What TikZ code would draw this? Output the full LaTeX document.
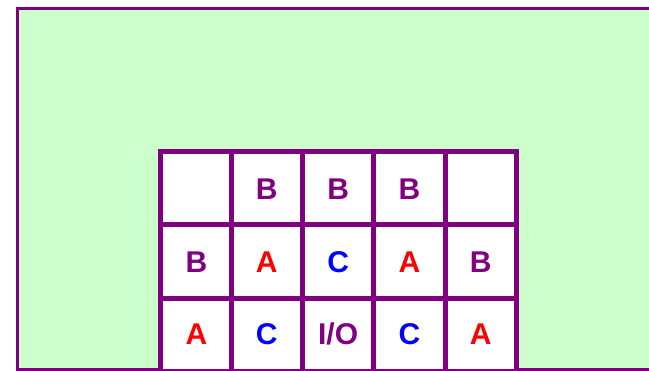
\documentclass[tikz,border=0pt]{standalone}
\usepackage{fontspec}
\setmainfont{Liberation Sans}
\definecolor{bggreen}{HTML}{CCFFCC}
\definecolor{gridpurple}{HTML}{800080}
\definecolor{cred}{HTML}{FF0000}
\definecolor{cblue}{HTML}{0000FF}
\begin{document}
\begin{tikzpicture}[x=1pt,y=-1pt,
  cell/.style={font=\fontsize{30}{30}\selectfont\bfseries, inner sep=0pt, anchor=center},
  pB/.style={cell, text=gridpurple},
  pA/.style={cell, text=cred},
  pC/.style={cell, text=cblue}]
\useasboundingbox (0,0) rectangle (649,371);
\clip (0,0) rectangle (649,371);
\filldraw[fill=bggreen, draw=gridpurple, line width=3] (17.5,8.5) rectangle (690,370);
% grid
\def\xs{71.3}
\def\ys{73.5}
\fill[white] (160,151.5) rectangle (516.5,372);
\foreach \i in {0,...,5} {
  \draw[gridpurple, line width=5] (160+\i*\xs,149) -- (160+\i*\xs,380);
}
\foreach \j in {0,...,3} {
  \draw[gridpurple, line width=5] (157.5,151.5+\j*\ys) -- (519,151.5+\j*\ys);
}
% texts
\node[pB] (r1c2) at (266.8,189) {B};
\node[pB] (r1c3) at (338.1,189) {B};
\node[pB] (r1c4) at (409.4,189) {B};
\node[pB] (r2c1) at (196.5,262.5) {B};
\node[pA] (r2c2) at (266.8,262.5) {A};
\node[pC] (r2c3) at (338.1,262.5) {C};
\node[pA] (r2c4) at (409.4,262.5) {A};
\node[pB] (r2c5) at (480.7,262.5) {B};
\node[pA] (r3c1) at (196.5,334.3) {A};
\node[pC] (r3c2) at (266.8,334.3) {C};
\node[pB] (r3c3) at (338.1,334.3) {I/O};
\node[pC] (r3c4) at (409.4,334.3) {C};
\node[pA] (r3c5) at (480.7,334.3) {A};
\end{tikzpicture}
\end{document}
